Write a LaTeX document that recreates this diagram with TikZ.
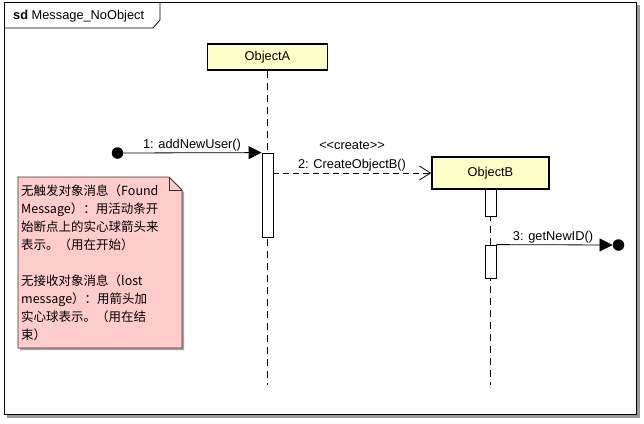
\documentclass[tikz,border=0pt]{standalone}
\usepackage{fontspec}
\setmainfont{Liberation Sans}
\newfontfamily\cjk{Noto Sans CJK SC}
\usetikzlibrary{arrows.meta}
\definecolor{objfill}{RGB}{255,255,200}
\definecolor{notefill}{RGB}{255,204,204}
\definecolor{noteline}{RGB}{70,40,40}
\begin{document}
\begin{tikzpicture}[x=1pt,y=-1pt, font=\fontsize{12.8}{15}\selectfont,
  obj/.style={draw,line width=1.6pt,fill=objfill,inner sep=0pt},
  act/.style={draw,line width=0.8pt,fill=white,minimum width=11pt,inner sep=0pt},
  life/.style={line width=0.8pt,dash pattern=on 7pt off 5pt},
  msg/.style={line width=0.8pt},
  lbl/.style={inner sep=0pt},
  ball/.style={circle,fill=black,minimum size=11.5pt,inner sep=0pt}]
\useasboundingbox (0,0) rectangle (644,423);
% frame with shadow
\fill[black!40] (7,5) rectangle (640,418);
\draw[fill=white,line width=0.8pt] (4,2) rectangle (636,414);
% title tab
\draw[line width=0.8pt] (4,28) -- (153,28) -- (160,20) -- (160,2);
\node[lbl,anchor=west] (title) at (13,16) {\textbf{sd} Message\_NoObject};
% objects
\node[obj,minimum width=120pt,minimum height=26pt] (objA) at (267.5,57) {ObjectA};
\node[obj,minimum width=117pt,minimum height=32pt] (objB) at (490.5,173) {ObjectB};
% lifelines
\coordinate (endA) at (267.5,385);
\coordinate (endB) at (490.5,385);
\draw[life] (objA.south) -- (endA);
\draw[life] (objB.south) -- (endB);
% activations
\node[act,minimum height=84pt] (actA) at (267.5,195) {};
\node[act,minimum height=27pt] (actB1) at (490.5,202.5) {};
\node[act,minimum height=33pt] (actB2) at (490.5,261.5) {};
% message 1 (found)
\node[ball] (found) at (117.5,153) {};
\draw[msg,-{Triangle[length=13pt,width=13pt]}] (found.center) -- (actA.north west);
\node[lbl] (l1) at (192,145) {1: addNewUser()};
% message 2 (create)
\draw[msg,dash pattern=on 6pt off 4pt,-{Straight Barb[length=11pt,width=14pt]}] (actA.east |- objB.west) -- (objB.west);
\node[lbl] (st) at (352,145) {<{}<create>{}>};
\node[lbl] (l2) at (352,165) {2: CreateObjectB()};
% message 3 (lost)
\node[ball] (lost) at (618.5,245) {};
\draw[msg,-{Triangle[length=13pt,width=13pt]}] (actB2.north east) -- (lost.west);
\node[lbl] (l3) at (553,237) {3: getNewID()};
% note
\fill[black!35] (20,179) -- (171,179) -- (184,192) -- (184,350) -- (20,350) -- cycle;
\draw[noteline,fill=notefill,line width=0.8pt] (18,177) -- (169,177) -- (182,190) -- (182,348) -- (18,348) -- cycle;
\draw[noteline,line width=0.8pt] (169,177) -- (169,190) -- (182,190);
\node[lbl,anchor=north west,align=left,font=\cjk\fontsize{12.5}{18}\selectfont] (note) at (21,185)
{无触发对象消息（Found\\Message）：用活动条开\\始断点上的实心球箭头来\\表示。（用在开始）\\[18pt]无接收对象消息（lost\\message）：用箭头加\\实心球表示。（用在结\\束）};
\end{tikzpicture}
\end{document}
